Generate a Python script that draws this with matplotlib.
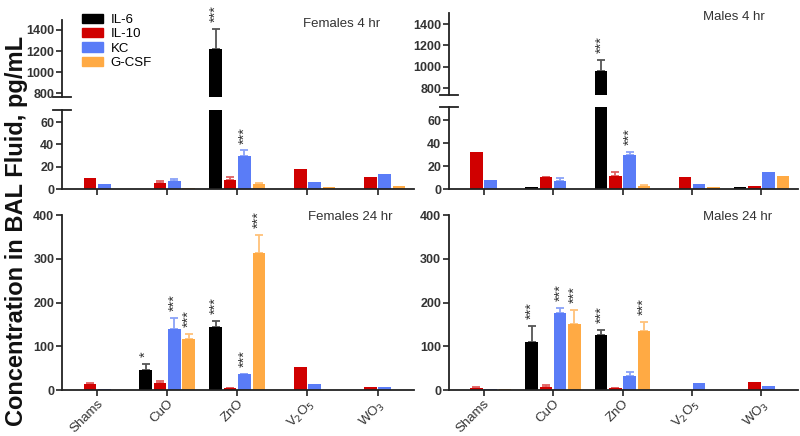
import matplotlib
matplotlib.use("Agg")
import matplotlib.pyplot as plt
import numpy as np

plt.rcParams['font.family'] = ['Liberation Sans', 'DejaVu Sans']

# data
groups = ["Shams", "CuO", "ZnO", "V$_2$O$_5$", "WO$_3$"]
cytokines = ["IL-6", "IL-10", "KC", "G-CSF"]
colors = ["#000000", "#d00000", "#5a7cf7", "#ffaa44"]
err_colors = ["#555555", "#e06060", "#8aa2f8", "#ffc27a"]

# females 4 hr
f4_il6 = [0, 0, 1215, 0, 0]
f4_il10 = [9.5, 5.5, 8, 18, 10.5]
f4_kc = [4.5, 7, 29.5, 6.5, 13]
f4_gcsf = [0, 1, 4.5, 1.5, 3]
f4_il6_err = [0, 0, 195, 0, 0]
f4_il10_err = [0, 1.5, 3, 0, 0]
f4_kc_err = [0, 2, 5, 0, 0]
f4_gcsf_err = [0, 0, 1, 0, 0]

# males 4 hr
m4_il6 = [0, 1.5, 955, 0, 1.5]
m4_il10 = [32.5, 10.3, 11.4, 10.3, 3]
m4_kc = [8, 6.6, 29.2, 4.3, 15]
m4_gcsf = [0, 0, 3, 1.5, 11.4]
m4_il6_err = [0, 0, 110, 0, 0]
m4_il10_err = [0, 0.5, 3, 0, 0]
m4_kc_err = [0, 3, 3, 0, 0]
m4_gcsf_err = [0, 0, 0.5, 0, 0]

# females 24 hr
f24_il6 = [0, 44.7, 145, 0, 0]
f24_il10 = [13.6, 16.7, 3.5, 51.5, 7.6]
f24_kc = [1.5, 139, 35.6, 13.6, 7]
f24_gcsf = [1, 117, 314, 0, 0]
f24_il6_err = [0, 15, 12, 0, 0]
f24_il10_err = [3.5, 3, 0.5, 0, 0]
f24_kc_err = [0, 25, 1.5, 0, 0]
f24_gcsf_err = [0, 12, 40, 0, 0]

# males 24 hr
m24_il6 = [1, 110.6, 126.5, 0, 0]
m24_il10 = [5, 7.6, 3.8, 0, 19]
m24_kc = [2, 176.5, 32.6, 16.7, 9.8]
m24_gcsf = [1.5, 151.5, 135.6, 0, 0]
m24_il6_err = [0, 35, 10.5, 0, 0]
m24_il10_err = [2, 4, 1, 0, 0]
m24_kc_err = [0, 11.5, 9, 0, 0]
m24_gcsf_err = [0, 31, 19, 0, 0]

# significance marks: (cytokine index, group index, text)
f4_stars = [(0, 2, "***"), (2, 2, "***")]
m4_stars = [(0, 2, "***"), (2, 2, "***")]
f24_stars = [(0, 1, "*"), (2, 1, "***"), (3, 1, "***"),
             (0, 2, "***"), (2, 2, "***"), (3, 2, "***")]
m24_stars = [(0, 1, "***"), (2, 1, "***"), (3, 1, "***"),
             (0, 2, "***"), (3, 2, "***")]

step = 0.205
width = 0.18
x = np.arange(len(groups))
tick_font = dict(fontsize=9, fontweight='bold', color='#333333')


def style(ax, xlabels):
    for s in ['top', 'right']:
        ax.spines[s].set_visible(False)
    for s in ['left', 'bottom']:
        ax.spines[s].set_linewidth(1.3)
        ax.spines[s].set_color('#222222')
    ax.tick_params(direction='out', length=4, width=1.2, color='#222222', pad=1.5)
    ax.set_xticks(x)
    ax.set_xlim(-0.5, 4.52)
    for lab in ax.get_yticklabels():
        lab.set(**tick_font)
    if xlabels:
        ax.set_xticklabels(groups, rotation=45, ha='right', rotation_mode='anchor',
                           fontsize=9.5, color='#333333')
    else:
        ax.set_xticklabels([])


def draw_bars(axes, series, errs, stars, err_axis_fn):
    for i, (vals, ee) in enumerate(zip(series, errs)):
        pos = x + (i - 1.5) * step
        for ax in axes:
            ax.bar(pos, vals, width, color=colors[i], zorder=2)
        for j in range(len(vals)):
            if ee[j] > 0:
                ax = err_axis_fn(vals[j])
                ax.errorbar(pos[j], vals[j], yerr=[[0], [ee[j]]], fmt='none',
                            ecolor=err_colors[i], elinewidth=1.3, capsize=3,
                            capthick=1.3, zorder=1)
    for i, j, txt in stars:
        top = series[i][j] + errs[i][j]
        ax = err_axis_fn(series[i][j])
        ax.annotate(txt, xy=(x[j] + (i - 1.5) * step, top), xytext=(0, 5),
                    textcoords='offset points', rotation=90, ha='center',
                    va='bottom', fontsize=10.5, color='#333333', annotation_clip=False)


def broken_panel(rect_hi, rect_lo, series, errs, stars, lims_hi, lim_lo, title):
    ax_hi = fig.add_axes(rect_hi)
    ax_lo = fig.add_axes(rect_lo)
    ax_hi.set_ylim(*lims_hi)
    ax_lo.set_ylim(0, lim_lo)
    ax_hi.set_yticks([800, 1000, 1200, 1400])
    ax_lo.set_yticks([0, 20, 40, 60])
    draw_bars([ax_hi, ax_lo], series, errs, stars,
              lambda v: ax_hi if v > lim_lo else ax_lo)
    style(ax_hi, False)
    style(ax_lo, False)
    ax_hi.spines['bottom'].set_visible(False)
    ax_hi.tick_params(axis='x', length=0)
    # break marks
    ax_hi.plot([-0.025, 0.025], [0, 0], transform=ax_hi.transAxes, color='#222222',
               lw=1.3, clip_on=False)
    ax_lo.plot([-0.025, 0.025], [1, 1], transform=ax_lo.transAxes, color='#222222',
               lw=1.3, clip_on=False)
    ax_hi.text(0.905, 0.95, title, transform=ax_hi.transAxes, ha='right', va='center',
               fontsize=9.5, color='#333333')
    return ax_hi, ax_lo


fig = plt.figure(figsize=(8, 4.36), dpi=100)

# females 4 hr
broken_panel([0.0775, 0.7775, 0.44, 0.1766], [0.0775, 0.5665, 0.44, 0.181],
             [f4_il6, f4_il10, f4_kc, f4_gcsf],
             [f4_il6_err, f4_il10_err, f4_kc_err, f4_gcsf_err],
             f4_stars, (762, 1495), 70.7, "Females 4 hr")

# males 4 hr
broken_panel([0.561, 0.782, 0.436, 0.188], [0.561, 0.5665, 0.436, 0.188],
             [m4_il6, m4_il10, m4_kc, m4_gcsf],
             [m4_il6_err, m4_il10_err, m4_kc_err, m4_gcsf_err],
             m4_stars, (734, 1503), 71.3, "Males 4 hr")

# 24 hr panels
for rect, series, errs, stars, title, tx in [
        ([0.0775, 0.1055, 0.44, 0.401], [f24_il6, f24_il10, f24_kc, f24_gcsf],
         [f24_il6_err, f24_il10_err, f24_kc_err, f24_gcsf_err], f24_stars,
         "Females 24 hr", 0.94),
        ([0.561, 0.1055, 0.436, 0.401], [m24_il6, m24_il10, m24_kc, m24_gcsf],
         [m24_il6_err, m24_il10_err, m24_kc_err, m24_gcsf_err], m24_stars,
         "Males 24 hr", 0.928)]:
    ax = fig.add_axes(rect)
    ax.set_ylim(0, 400)
    ax.set_yticks([0, 100, 200, 300, 400])
    draw_bars([ax], series, errs, stars, lambda v, a=ax: a)
    style(ax, True)
    ax.text(tx, 0.99, title, transform=ax.transAxes, ha='right', va='center',
            fontsize=9.5, color='#333333')

handles = [plt.Rectangle((0, 0), 1, 1, color=c) for c in colors]
fig.legend(handles, cytokines, loc='upper left', bbox_to_anchor=(0.102, 0.968),
           frameon=False, fontsize=9.5, handlelength=1.6, handleheight=0.7,
           labelspacing=0.15, handletextpad=0.6, borderpad=0, borderaxespad=0)

fig.text(0.021, 0.47, "Concentration in BAL Fluid, pg/mL", rotation=90,
         ha='center', va='center', fontsize=17, fontweight='bold', color='#111111')

fig.savefig("out.png", dpi=100)
